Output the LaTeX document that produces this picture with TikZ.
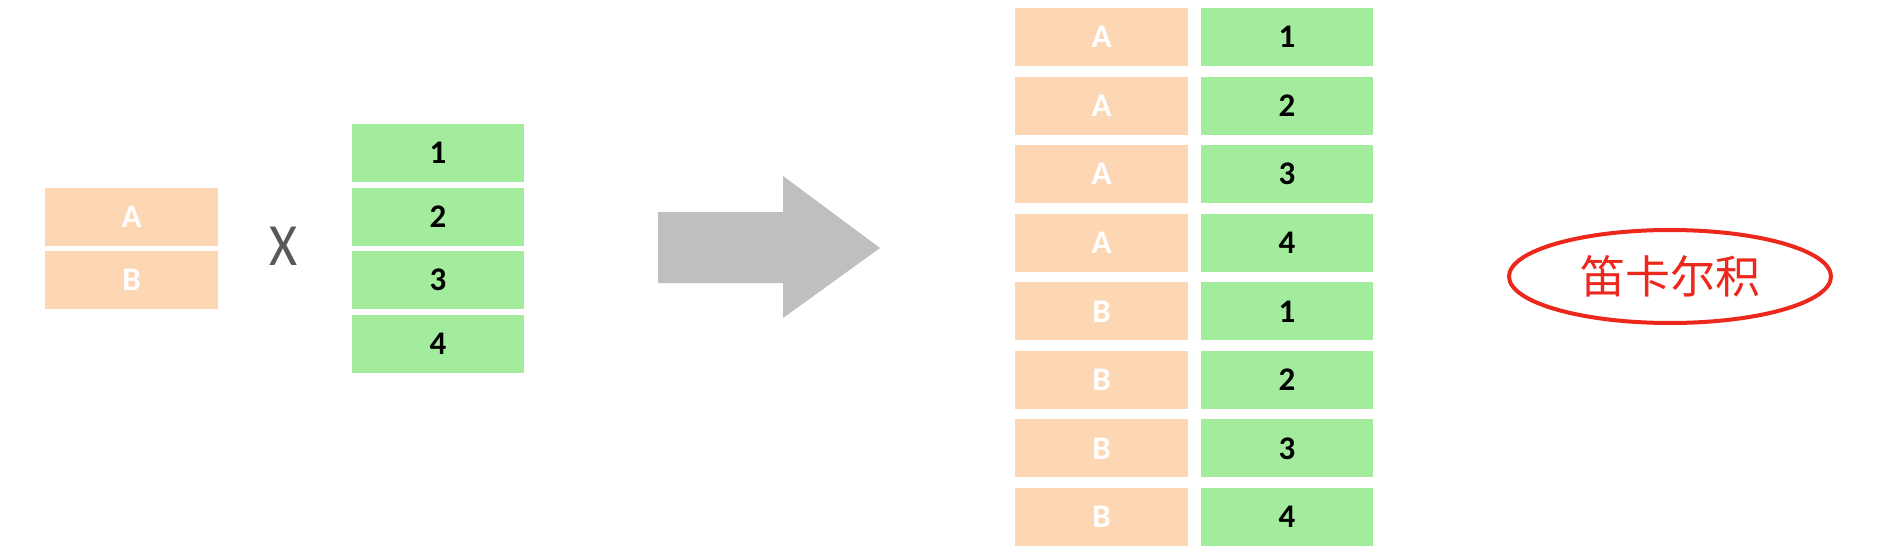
\documentclass[tikz,border=0pt]{standalone}
\usepackage{fontspec}
\setmainfont{Carlito}
\newfontfamily\cjk{Noto Sans CJK SC}
\usetikzlibrary{shapes.geometric}

\definecolor{peach}{RGB}{253,214,179}
\definecolor{mint}{RGB}{163,236,158}
\definecolor{arrowgray}{RGB}{191,191,191}
\definecolor{crossgray}{RGB}{89,89,89}
\definecolor{markred}{RGB}{236,40,28}

\tikzset{
  cell/.style={rectangle, inner sep=0pt, minimum height=58pt,
    font=\fontsize{33}{33}\selectfont\bfseries},
  lettercell/.style={cell, fill=peach, text=white},
  numbercell/.style={cell, fill=mint, text=black},
}

\begin{document}
\begin{tikzpicture}[x=1pt,y=-1pt]
        \useasboundingbox[fill=white] (0,0) rectangle (1877,559);

        % Left table
        \node[lettercell, minimum width=173pt] (la) at (131.5,217) {A};
        \node[lettercell, minimum width=173pt] (lb) at (131.5,280) {B};

        % Times sign
        \node[text=crossgray, font=\fontsize{60}{60}\selectfont, xscale=0.9] (times) at (283.5,246) {X};

        % Right table
        \node[numbercell, minimum width=172pt] (n1) at (438,153) {1};
        \node[numbercell, minimum width=172pt] (n2) at (438,216.5) {2};
        \node[numbercell, minimum width=172pt] (n3) at (438,280) {3};
        \node[numbercell, minimum width=172pt] (n4) at (438,343.5) {4};

        % Coordinates of the big arrow
        \coordinate (P1) at (658,212);
        \coordinate (P2) at (783,212);
        \coordinate (P3) at (783,176);
        \coordinate (P4) at (880,248);
        \coordinate (P5) at (783,318);
        \coordinate (P6) at (783,283);
        \coordinate (P7) at (658,283);

        % Drawing the arrow
        \fill[arrowgray] (P1) -- (P2) -- (P3) -- (P4) -- (P5) -- (P6) -- (P7) -- cycle;

        % Product table
        \node[lettercell, minimum width=173pt] (ra1) at (1101.5,37) {A};
        \node[lettercell, minimum width=173pt] (ra2) at (1101.5,105.6) {A};
        \node[lettercell, minimum width=173pt] (ra3) at (1101.5,174.1) {A};
        \node[lettercell, minimum width=173pt] (ra4) at (1101.5,242.7) {A};
        \node[lettercell, minimum width=173pt] (rb1) at (1101.5,311.3) {B};
        \node[lettercell, minimum width=173pt] (rb2) at (1101.5,379.9) {B};
        \node[lettercell, minimum width=173pt] (rb3) at (1101.5,448.4) {B};
        \node[lettercell, minimum width=173pt] (rb4) at (1101.5,517) {B};
        \node[numbercell, minimum width=172pt] (rn1) at (1287,37) {1};
        \node[numbercell, minimum width=172pt] (rn2) at (1287,105.6) {2};
        \node[numbercell, minimum width=172pt] (rn3) at (1287,174.1) {3};
        \node[numbercell, minimum width=172pt] (rn4) at (1287,242.7) {4};
        \node[numbercell, minimum width=172pt] (rn5) at (1287,311.3) {1};
        \node[numbercell, minimum width=172pt] (rn6) at (1287,379.9) {2};
        \node[numbercell, minimum width=172pt] (rn7) at (1287,448.4) {3};
        \node[numbercell, minimum width=172pt] (rn8) at (1287,517) {4};

        % Label
        \node[ellipse, draw=markred, line width=4pt, minimum width=322pt, minimum height=93pt,
          text=markred, font=\cjk\fontsize{45}{45}\selectfont] (name) at (1670,276.5) {笛卡尔积};
    \end{tikzpicture}
\end{document}
